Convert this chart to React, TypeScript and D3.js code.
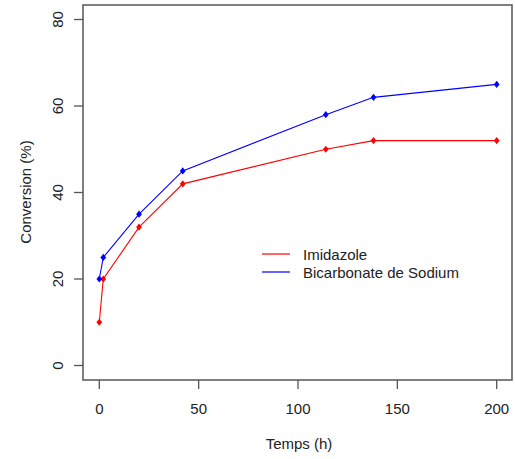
import React from "react";
import * as d3 from "d3";

const timesImidazole = [0, 2, 20, 42, 114, 138, 200];
const valuesImidazole = [10, 20, 32, 42, 50, 52, 52];
const timesBicarbonate = [0, 2, 20, 42, 114, 138, 200];
const valuesBicarbonate = [20, 25, 35, 45, 58, 62, 65];
const xTicks = [0, 50, 100, 150, 200];
const yTicks = [0, 20, 40, 60, 80];
const seriesNames = ["Imidazole", "Bicarbonate de Sodium"];
const seriesColors = ["#ff0000", "#0000ff"];

export default function App() {
  const W = 515, H = 459;
  const x = d3.scaleLinear().domain([0, 200]).range([99.3, 496.7]);
  const y = d3.scaleLinear().domain([0, 80]).range([365.5, 19.5]);
  const left = 83, right = 512, top = 5, bottom = 380;
  const font = "'Liberation Sans', Arial, sans-serif";
  const axisColor = "#555";
  const fs = 15;
  const series = [
    { name: seriesNames[0], color: seriesColors[0], pts: timesImidazole.map((t, i) => [t, valuesImidazole[i]]) },
    { name: seriesNames[1], color: seriesColors[1], pts: timesBicarbonate.map((t, i) => [t, valuesBicarbonate[i]]) },
  ];
  const line = d3.line<number[]>().x(d => x(d[0])).y(d => y(d[1]));
  const diamond = (cx: number, cy: number) => {
    const r = 3.6;
    return `M${cx},${cy - r}L${cx + r * 0.8},${cy}L${cx},${cy + r}L${cx - r * 0.8},${cy}Z`;
  };
  return (
    <svg width={W} height={H} style={{ position: "absolute", left: 0, top: 0 }}>
      <rect x={0} y={0} width={W} height={H} fill="#fff" />
      <rect x={left} y={top} width={right - left} height={bottom - top} fill="none" stroke={axisColor} strokeWidth={1.5} />
      {xTicks.map(t => (
        <g key={"x" + t}>
          <line x1={x(t)} x2={x(t)} y1={bottom} y2={bottom + 9} stroke={axisColor} strokeWidth={1.3} />
          <text x={x(t)} y={414} textAnchor="middle" fontFamily={font} fontSize={fs} fill="#222">{t}</text>
        </g>
      ))}
      {yTicks.map(t => (
        <g key={"y" + t}>
          <line x1={left - 9} x2={left} y1={y(t)} y2={y(t)} stroke={axisColor} strokeWidth={1.3} />
          <text transform={`translate(63,${y(t)}) rotate(-90)`} textAnchor="middle" fontFamily={font} fontSize={fs} fill="#222">{t}</text>
        </g>
      ))}
      <text x={299} y={449} textAnchor="middle" fontFamily={font} fontSize={fs} fill="#222">Temps (h)</text>
      <text transform={`translate(31,192) rotate(-90)`} textAnchor="middle" fontFamily={font} fontSize={fs} fill="#222">Conversion (%)</text>
      {series.map(s => (
        <g key={s.name}>
          <path d={line(s.pts) || ""} fill="none" stroke={s.color} strokeWidth={1.1} />
          {s.pts.map((p, i) => (
            <path key={i} d={diamond(x(p[0]), y(p[1]))} fill={s.color} />
          ))}
        </g>
      ))}
      {series.map((s, i) => (
        <g key={"lg" + i}>
          <line x1={262} x2={290} y1={254 + i * 18} y2={254 + i * 18} stroke={s.color} strokeWidth={1.2} />
          <text x={303} y={259.5 + i * 18} fontFamily={font} fontSize={fs} fill="#222">{s.name}</text>
        </g>
      ))}
    </svg>
  );
}
